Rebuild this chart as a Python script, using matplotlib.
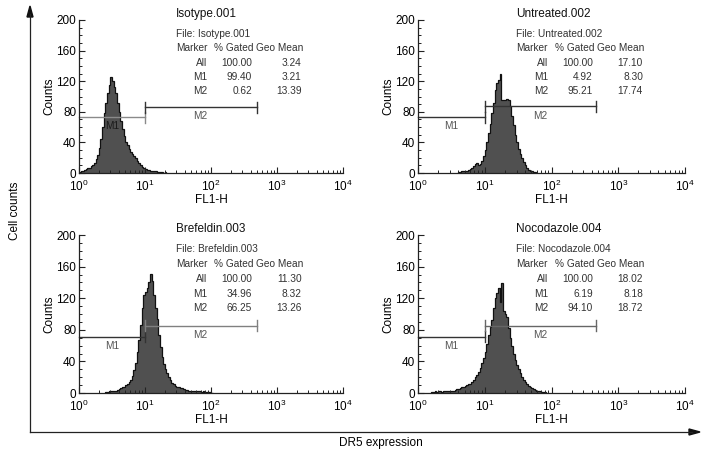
import numpy as np
import matplotlib.pyplot as plt
from matplotlib.ticker import MultipleLocator, LogLocator

plt.rcParams['font.family'] = ['Liberation Sans', 'DejaVu Sans']

# histogram counts, bins of 0.025 decade starting at the given log10 channel
bin_step = 0.025

iso_start = 0.0
iso_counts = [1, 2, 3, 4, 5, 6, 7, 9, 11, 13, 18, 24, 33, 44, 60, 78, 92, 104, 115, 126,
              120, 113, 104, 92, 80, 68, 57, 48, 41, 36, 32, 28, 25, 22, 19, 16, 13, 10, 8, 7,
              5, 4, 4, 3, 3, 2, 2, 1, 1, 1, 1, 0, 1]

unt_start = 0.6
unt_counts = [1, 1, 2, 2, 3, 3, 4, 5, 6, 9, 12, 13, 11, 12, 16, 22, 30, 40, 52, 64,
              78, 92, 108, 118, 121, 130, 96, 95, 96, 97, 95, 88, 75, 63, 50, 40, 32, 25, 19, 14,
              10, 7, 4, 3, 2, 1, 1]

bre_start = 0.4
bre_counts = [1, 1, 2, 2, 2, 3, 3, 4, 5, 6, 7, 8, 10, 12, 14, 17, 22, 29, 38, 52,
              67, 86, 108, 124, 128, 133, 140, 151, 142, 124, 108, 94, 74, 58, 46, 37, 30, 25, 20, 16,
              13, 11, 9, 8, 7, 6, 6, 5, 4, 4, 3, 3, 3, 2, 3, 2, 2, 2, 1, 2,
              1, 1, 1, 1, 0]

noc_start = 0.2
noc_counts = [1, 1, 2, 1, 2, 2, 1, 2, 2, 3, 2, 3, 3, 3, 4, 5, 5, 6, 7, 8,
              9, 10, 11, 12, 14, 17, 20, 23, 27, 32, 38, 44, 52, 62, 74, 84, 92, 108, 120, 126,
              133, 115, 139, 104, 100, 96, 82, 70, 59, 50, 42, 36, 30, 25, 20, 16, 14, 11, 9, 8,
              6, 5, 4, 3, 2, 2, 1, 1, 1]

titles = ['Isotype.001', 'Untreated.002', 'Brefeldin.003', 'Nocodazole.004']
starts = [iso_start, unt_start, bre_start, noc_start]
counts = [iso_counts, unt_counts, bre_counts, noc_counts]

# stats table: (marker, % gated, geo mean)
stats = [
    [('All', '100.00', '3.24'), ('M1', '99.40', '3.21'), ('M2', '0.62', '13.39')],
    [('All', '100.00', '17.10'), ('M1', '4.92', '8.30'), ('M2', '95.21', '17.74')],
    [('All', '100.00', '11.30'), ('M1', '34.96', '8.32'), ('M2', '66.25', '13.26')],
    [('All', '100.00', '18.02'), ('M1', '6.19', '8.18'), ('M2', '94.10', '18.72')],
]

# marker gates: M1 level, M2 level, M2 upper end
m1_levels = [73, 73, 71, 71]
m2_levels = [86, 87, 85, 85]
m2_ends = [490, 470, 490, 470]
m1_colors = ['#8a8a8a', '#333333', '#333333', '#333333']
m2_colors = ['#333333', '#333333', '#808080', '#666666']
m1_label_colors = ['#1a1a1a', '#555555', '#555555', '#555555']

fig = plt.figure(figsize=(7.09, 4.57), dpi=100)

boxes = [
    [79 / 709, 1 - 173 / 457, 264 / 709, 153 / 457],
    [418 / 709, 1 - 173 / 457, 267 / 709, 153 / 457],
    [79 / 709, 1 - 393 / 457, 264 / 709, 158 / 457],
    [418 / 709, 1 - 393 / 457, 267 / 709, 158 / 457],
]

txt_col = '#333333'
for i in range(4):
    ax = fig.add_axes(boxes[i])
    c = np.array(counts[i], dtype=float)
    edges = 10 ** (starts[i] + bin_step * np.arange(len(c) + 1))
    ax.stairs(c, edges, fill=True, color='#505050', lw=0)
    ax.stairs(c, edges, color='#111111', lw=0.9)

    ax.set_xscale('log')
    ax.set_xlim(1, 1e4)
    ax.set_ylim(0, 200)
    ax.yaxis.set_major_locator(MultipleLocator(40))
    ax.yaxis.set_minor_locator(MultipleLocator(10))
    ax.xaxis.set_minor_locator(LogLocator(base=10, subs=np.arange(2, 10)))
    for s in ['top', 'right']:
        ax.spines[s].set_visible(False)
    for s in ['left', 'bottom']:
        ax.spines[s].set_color('#222222')
        ax.spines[s].set_linewidth(0.9)
    ax.tick_params(which='major', direction='in', length=4, width=0.8, color='#222222',
                   labelsize=8.5, pad=2)
    ax.tick_params(axis='x', which='major', pad=4.5)
    ax.tick_params(which='minor', direction='in', length=2.5, width=0.7, color='#222222')
    ax.set_ylabel('Counts', fontsize=8.5, labelpad=1)
    ax.set_xlabel('FL1-H', fontsize=8.5, labelpad=0)

    # marker gates
    ax.plot([1, 10], [m1_levels[i]] * 2, color=m1_colors[i], lw=1, clip_on=False)
    ax.plot([10, 10], [m1_levels[i] - 7, m1_levels[i] + 7], color=m1_colors[i], lw=1)
    ax.plot([10, m2_ends[i]], [m2_levels[i]] * 2, color=m2_colors[i], lw=1)
    ax.plot([10, 10], [m2_levels[i] - 7, m2_levels[i] + 7], color=m2_colors[i], lw=1)
    ax.plot([m2_ends[i]] * 2, [m2_levels[i] - 7, m2_levels[i] + 7], color=m2_colors[i], lw=1)
    ax.text(10 ** 0.5, m1_levels[i] - 12, 'M1', fontsize=7.3, color=m1_label_colors[i],
            ha='center', va='center', zorder=5)
    ax.text(10 ** 1.83, m2_levels[i] - 12, 'M2', fontsize=7.3, color='#555555',
            ha='center', va='center')

    # stats block
    x0 = 10 ** 1.47
    ax.text(x0, 208, titles[i], fontsize=8.5, color='#111111', ha='left', va='center',
            clip_on=False)
    ax.text(x0, 182, 'File: ' + titles[i], fontsize=7.3, color=txt_col, ha='left', va='center')
    ax.text(x0, 163, 'Marker', fontsize=7.3, color=txt_col, ha='left', va='center')
    ax.text(10 ** 2.05, 163, '% Gated', fontsize=7.3, color=txt_col, ha='left', va='center')
    ax.text(10 ** 2.68, 163, 'Geo Mean', fontsize=7.3, color=txt_col, ha='left', va='center')
    for r, row in enumerate(stats[i]):
        yy = 144 - 18.5 * r
        ax.text(10 ** 1.95, yy, row[0], fontsize=7.3, color=txt_col, ha='right', va='center')
        ax.text(10 ** 2.62, yy, row[1], fontsize=7.3, color=txt_col, ha='right', va='center')
        ax.text(10 ** 3.37, yy, row[2], fontsize=7.3, color=txt_col, ha='right', va='center')

# overall axes arrows
fig.add_artist(plt.Line2D([30 / 709, 30 / 709], [1 - 432 / 457, 1 - 14 / 457],
                          color='#222222', lw=0.9))
fig.add_artist(plt.Line2D([30 / 709, 692 / 709], [1 - 432 / 457, 1 - 432 / 457],
                          color='#222222', lw=0.9))
fig.patches.append(plt.Polygon([[30 / 709, 1 - 6 / 457], [27 / 709, 1 - 17 / 457],
                                [33 / 709, 1 - 17 / 457]], closed=True,
                               transform=fig.transFigure, color='#111111'))
fig.patches.append(plt.Polygon([[700 / 709, 1 - 432 / 457], [689 / 709, 1 - 429 / 457],
                                [689 / 709, 1 - 435 / 457]], closed=True,
                               transform=fig.transFigure, color='#111111'))
fig.text(15 / 709, 1 - 211 / 457, 'Cell counts', rotation=90, fontsize=8.5,
         ha='center', va='center')
fig.text(381 / 709, 1 - 443 / 457, 'DR5 expression', fontsize=8.5, ha='center', va='center')

fig.savefig('out.png', dpi=100)
